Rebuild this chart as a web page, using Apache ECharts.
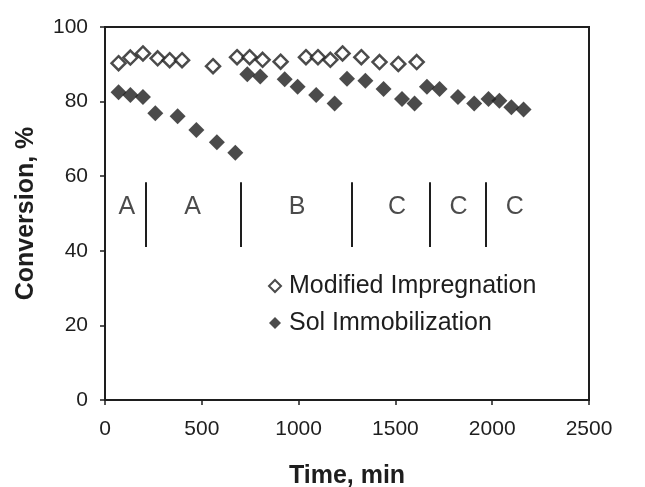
<!DOCTYPE html>
<html><head><meta charset="utf-8">
<script src="https://cdn.jsdelivr.net/npm/echarts@6/dist/echarts.min.js"></script>
<style>html,body{margin:0;padding:0;background:#fff}#c{width:645px;height:487px}</style>
</head><body><div id="c"></div>
<script>
const impTime = [70,131,196,272,334,398,558,682,747,814,907,1038,1100,1164,1227,1324,1418,1515,1610];
const impConv = [90.3,91.8,92.9,91.6,91.1,91.1,89.5,91.9,91.9,91.2,90.7,91.9,91.9,91.2,92.9,91.9,90.6,90.1,90.6];
const solTime = [70,131,196,260,375,472,578,673,735,802,928,995,1091,1186,1250,1345,1439,1534,1599,1663,1728,1823,1907,1981,2037,2099,2162];
const solConv = [82.5,81.8,81.2,76.9,76.1,72.4,69.1,66.3,87.3,86.7,86.0,84.0,81.8,79.5,86.1,85.6,83.4,80.7,79.5,84.0,83.4,81.2,79.5,80.7,80.2,78.5,77.9];
const dividerTimes = [211,699,1276,1680,1968];
const dividerLow = 41.0, dividerHigh = 58.4;
const sectionTime = [113,452,992,1508,1826,2116];
const sectionText = ['A','A','B','C','C','C'];
const sectionConv = 51.6;
const xTicks = [0,500,1000,1500,2000,2500];
const yTicks = [0,20,40,60,80,100];

const zip = (a,b)=>a.map((v,i)=>[v,b[i]]);
const font = 'Liberation Sans, Arial, sans-serif';
const ink = '#1e1e1e';
const chart = echarts.init(document.getElementById('c'), null, {renderer:'canvas'});
chart.setOption({
  animation:false,
  backgroundColor:'#fff',
  grid:{left:105,right:56,top:27,bottom:87,show:true,borderColor:ink,borderWidth:2,
        containLabel:false,outerBoundsMode:'none'},
  legend:{
    orient:'vertical', left:263, top:268, itemGap:11, itemWidth:12, itemHeight:12,
    data:['Modified Impregnation','Sol Immobilization'],
    textStyle:{fontFamily:font,fontSize:25,lineHeight:26,color:ink,padding:[0,0,0,3]}
  },
  xAxis:{
    type:'value', min:xTicks[0], max:xTicks[xTicks.length-1], interval:500,
    name:'Time, min', nameLocation:'middle', nameGap:64,
    nameTextStyle:{fontFamily:font,fontSize:25,fontWeight:'bold',color:ink},
    axisLine:{lineStyle:{color:ink,width:2}},
    axisTick:{show:true,inside:false,length:5,lineStyle:{color:ink,width:1.5}},
    axisLabel:{fontFamily:font,fontSize:21,color:ink,margin:19,formatter:v=>String(v)},
    splitLine:{show:false}
  },
  yAxis:{
    type:'value', min:yTicks[0], max:yTicks[yTicks.length-1], interval:20,
    name:'Conversion, %', nameLocation:'middle', nameGap:66, nameRotate:90,
    nameTextStyle:{fontFamily:font,fontSize:25,fontWeight:'bold',color:ink},
    axisLine:{show:true,lineStyle:{color:ink,width:2}},
    axisTick:{show:true,inside:false,length:5,lineStyle:{color:ink,width:1.5}},
    axisLabel:{fontFamily:font,fontSize:21,color:ink,margin:17,formatter:v=>String(v)},
    splitLine:{show:false}
  },
  series:[
    {name:'Modified Impregnation',type:'scatter',symbol:'diamond',symbolSize:14,
     itemStyle:{color:'#fff',borderColor:ink,borderWidth:2.5},
     data:zip(impTime,impConv),z:3},
    {name:'Sol Immobilization',type:'scatter',symbol:'diamond',symbolSize:16,
     itemStyle:{color:ink},
     data:zip(solTime,solConv),z:3},
    {name:'dividers',type:'line',data:[],silent:true,
     markLine:{symbol:['none','none'],silent:true,label:{show:false},
       lineStyle:{color:ink,width:2,type:'solid'},
       data:dividerTimes.map(t=>[{coord:[t,dividerLow]},{coord:[t,dividerHigh]}])}},
    {name:'sections',type:'scatter',symbolSize:0,silent:true,
     data:sectionTime.map((t,i)=>({value:[t,sectionConv],label:{formatter:sectionText[i]}})),
     label:{show:true,position:'inside',fontFamily:font,fontSize:25,color:ink}}
  ]
});
</script></body></html>
